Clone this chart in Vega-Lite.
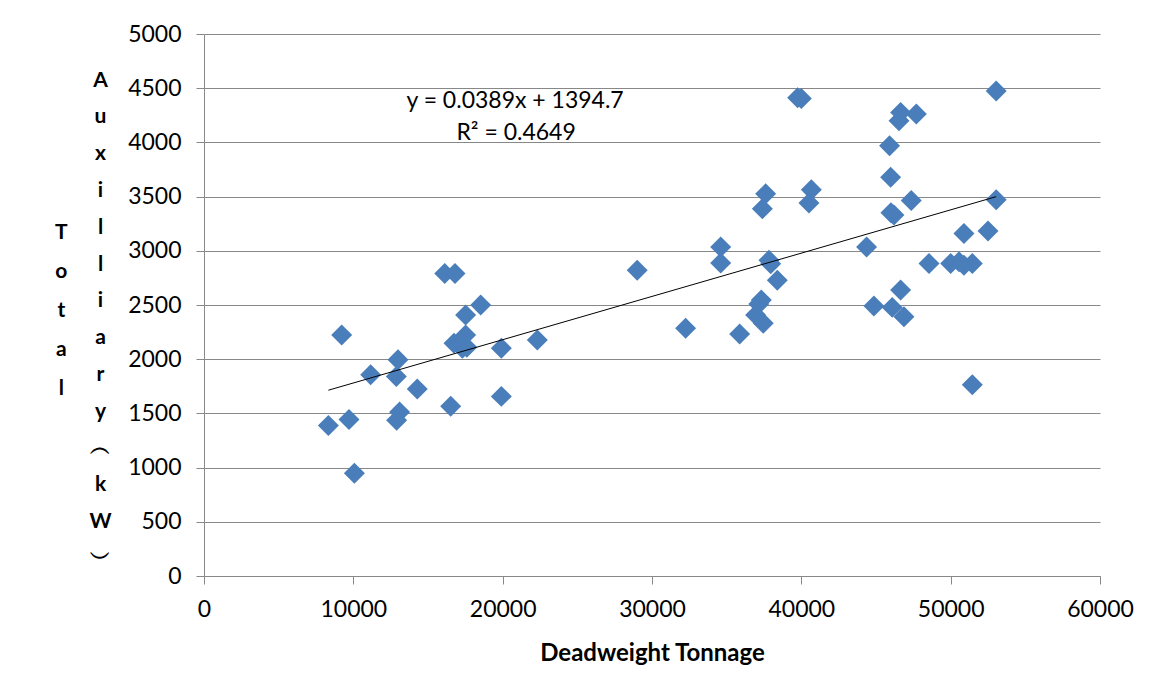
{
  "$schema": "https://vega.github.io/schema/vega-lite/v6.json",
  "width": 896,
  "height": 542,
  "autosize": {"type": "none"},
  "padding": {"left": 204, "top": 34, "right": 55, "bottom": 119},
  "background": "white",
  "title": {
    "text": ["T", "o", "t", "a", "l"],
    "orient": "left",
    "angle": 0,
    "align": "center",
    "baseline": "middle",
    "anchor": "middle",
    "lineHeight": 39,
    "font": "Lato",
    "fontSize": 21,
    "fontWeight": "bold",
    "color": "black",
    "offset": 15,
    "dy": -72
  },
  "config": {
    "view": {"stroke": null},
    "font": "Lato",
    "axis": {
      "labelFont": "Lato",
      "labelFontSize": 23,
      "labelColor": "black",
      "domainColor": "#888888",
      "tickColor": "#888888",
      "gridColor": "#888888",
      "tickSize": 8,
      "titleFont": "Lato",
      "titleFontWeight": "bold",
      "titleColor": "black"
    }
  },
  "data": {
    "values": [
      {"dwt": 8330, "kw": 1388},
      {"dwt": 9220, "kw": 2224},
      {"dwt": 9710, "kw": 1443},
      {"dwt": 10070, "kw": 947},
      {"dwt": 11160, "kw": 1857},
      {"dwt": 12990, "kw": 1994},
      {"dwt": 12880, "kw": 1841},
      {"dwt": 13100, "kw": 1513},
      {"dwt": 12900, "kw": 1436},
      {"dwt": 14280, "kw": 1725},
      {"dwt": 16120, "kw": 2791},
      {"dwt": 16810, "kw": 2791},
      {"dwt": 16520, "kw": 1565},
      {"dwt": 16740, "kw": 2148},
      {"dwt": 17300, "kw": 2102},
      {"dwt": 17520, "kw": 2224},
      {"dwt": 17600, "kw": 2110},
      {"dwt": 17520, "kw": 2408},
      {"dwt": 18530, "kw": 2500},
      {"dwt": 19910, "kw": 2102},
      {"dwt": 19910, "kw": 1657},
      {"dwt": 22320, "kw": 2178},
      {"dwt": 29010, "kw": 2821},
      {"dwt": 32250, "kw": 2285},
      {"dwt": 34600, "kw": 3035},
      {"dwt": 34600, "kw": 2888},
      {"dwt": 35870, "kw": 2233},
      {"dwt": 36940, "kw": 2408},
      {"dwt": 37450, "kw": 2331},
      {"dwt": 37320, "kw": 2546},
      {"dwt": 37150, "kw": 2510},
      {"dwt": 37610, "kw": 3526},
      {"dwt": 37390, "kw": 3388},
      {"dwt": 37830, "kw": 2913},
      {"dwt": 37950, "kw": 2880},
      {"dwt": 38390, "kw": 2729},
      {"dwt": 39750, "kw": 4411},
      {"dwt": 40000, "kw": 4405},
      {"dwt": 40670, "kw": 3563},
      {"dwt": 40510, "kw": 3440},
      {"dwt": 44370, "kw": 3035},
      {"dwt": 44860, "kw": 2490},
      {"dwt": 45910, "kw": 3970},
      {"dwt": 45980, "kw": 3679},
      {"dwt": 46000, "kw": 3350},
      {"dwt": 46200, "kw": 3330},
      {"dwt": 46090, "kw": 2478},
      {"dwt": 46650, "kw": 2638},
      {"dwt": 46870, "kw": 2392},
      {"dwt": 46650, "kw": 4276},
      {"dwt": 46540, "kw": 4200},
      {"dwt": 47700, "kw": 4261},
      {"dwt": 47360, "kw": 3465},
      {"dwt": 48550, "kw": 2883},
      {"dwt": 50000, "kw": 2883},
      {"dwt": 50560, "kw": 2898},
      {"dwt": 50890, "kw": 2867},
      {"dwt": 51450, "kw": 2883},
      {"dwt": 50890, "kw": 3159},
      {"dwt": 52500, "kw": 3183},
      {"dwt": 51450, "kw": 1764},
      {"dwt": 53050, "kw": 4475},
      {"dwt": 53050, "kw": 3471}
    ]
  },
  "encoding": {
    "x": {
      "field": "dwt",
      "type": "quantitative",
      "scale": {"domain": [0, 60000], "nice": false, "zero": true},
      "axis": {
        "values": [0, 10000, 20000, 30000, 40000, 50000, 60000],
        "format": "d",
        "grid": false,
        "labelPadding": 14,
        "labelFlush": false,
        "title": "Deadweight Tonnage",
        "titleFontSize": 24,
        "titleY": 77,
        "titleBaseline": "middle"
      }
    },
    "y": {
      "field": "kw",
      "type": "quantitative",
      "scale": {"domain": [0, 5000], "nice": false},
      "axis": {
        "values": [0, 500, 1000, 1500, 2000, 2500, 3000, 3500, 4000, 4500, 5000],
        "format": "d",
        "grid": true,
        "labelPadding": 15,
        "labelFlush": false,
        "title": ["A", "u", "x", "i", "l", "l", "i", "a", "r", "y", "︵", "k", "W", "︶"],
        "titleAngle": 0,
        "titleFontSize": 21,
        "titleLineHeight": 36.8,
        "titleAlign": "center",
        "titleBaseline": "middle",
        "titleX": -104,
        "titleY": 46
      }
    }
  },
  "layer": [
    {
      "mark": {"type": "point", "shape": "diamond", "filled": true, "size": 440, "color": "#4a7ebb", "opacity": 1}
    },
    {
      "transform": [{"regression": "kw", "on": "dwt"}],
      "mark": {"type": "line", "color": "black", "strokeWidth": 1}
    },
    {
      "data": {"values": [{"label": "y = 0.0389x + 1394.7", "lx": 20830, "ly": 4382}, {"label": "R² = 0.4649", "lx": 20900, "ly": 4087}]},
      "mark": {"type": "text", "font": "Lato", "fontSize": 23, "color": "black", "align": "center", "baseline": "middle"},
      "encoding": {
        "x": {"field": "lx", "type": "quantitative"},
        "y": {"field": "ly", "type": "quantitative"},
        "text": {"field": "label"}
      }
    }
  ]
}
